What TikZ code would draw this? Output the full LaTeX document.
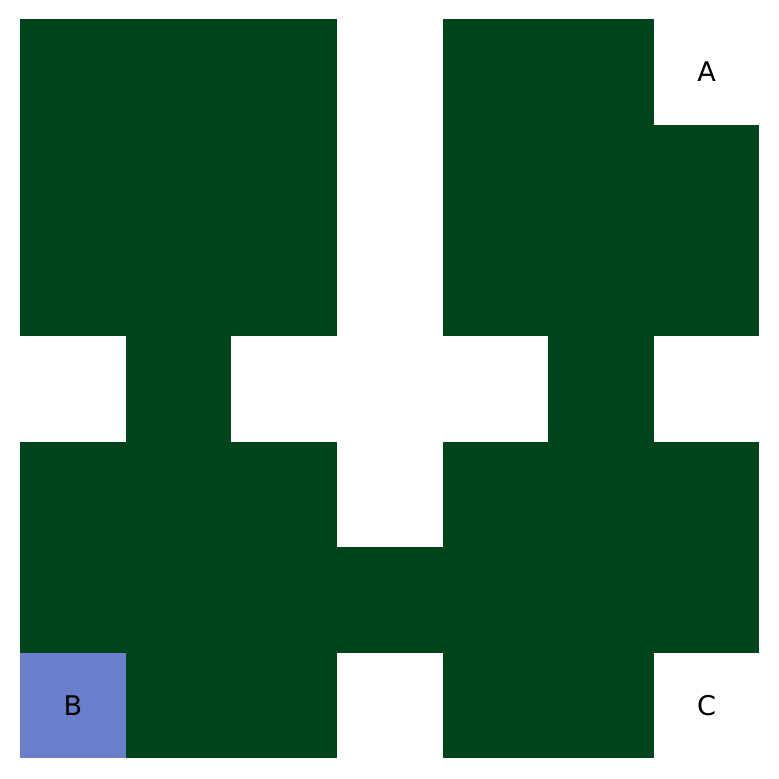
\documentclass[tikz,border=0pt]{standalone}
\usepackage{fontspec}
\setmainfont{DejaVu Sans}
\usepackage{xcolor}
\usepackage{tikz}
\usetikzlibrary{positioning}
\definecolor{forest}  {HTML}{00441B}
\definecolor{periwink}{HTML}{6A7FCC}

\begin{document}
\begin{tikzpicture}[x=1cm,y=1cm]
  \useasboundingbox (-0.19,-0.195) rectangle (7.185,7.18);
  % filled cells, row 0 at the top
  \foreach \r/\cols in {0/{0,1,2,4,5},1/{0,1,2,4,5,6},2/{0,1,2,4,5,6},
                        3/{1,5},4/{0,1,2,4,5,6},5/{0,1,2,3,4,5,6},6/{1,2,4,5}}{
    \foreach \c in \cols {\fill[forest] (\c,6-\r) rectangle ++(1,1);}
  }
  \fill[periwink] (0,0) rectangle (1,1);
  \node[font=\fontsize{7.3}{8.5}\selectfont] (cellA) at (6.5,6.5) {A};
  \node[font=\fontsize{7.3}{8.5}\selectfont] (cellB) at (0.5,0.5) {B};
  \node[font=\fontsize{7.3}{8.5}\selectfont] (cellC) at (6.5,0.5) {C};
\end{tikzpicture}
\end{document}
